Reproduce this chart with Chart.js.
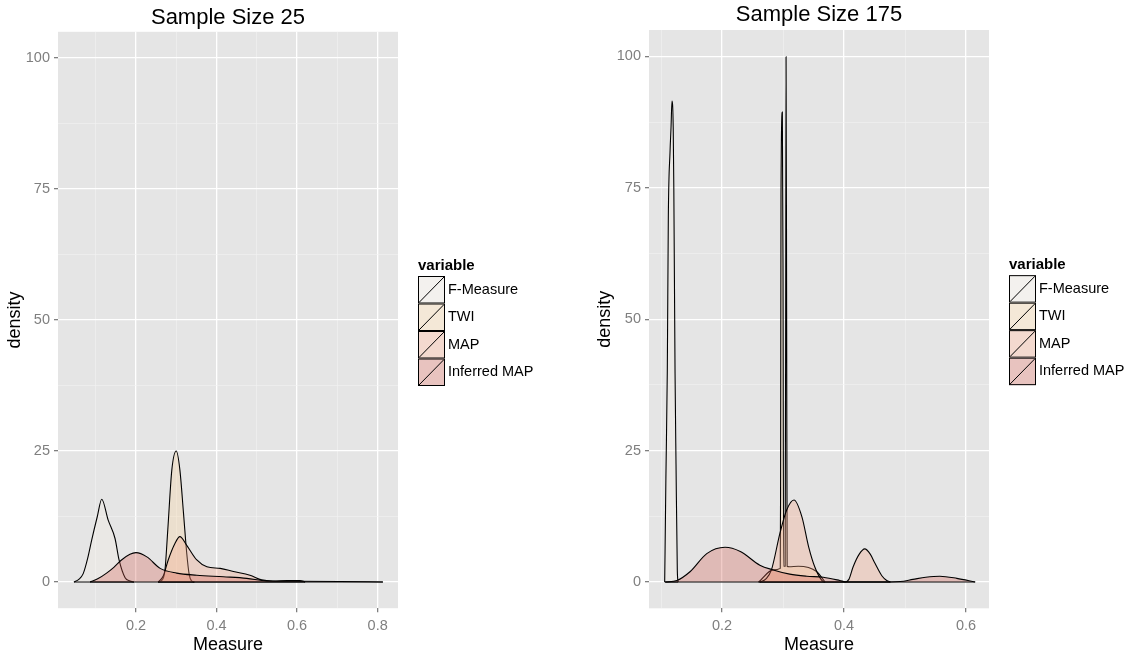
<!DOCTYPE html>
<html>
<head>
<meta charset="utf-8">
<script src="https://cdn.jsdelivr.net/npm/chart.js@4"></script>
<style>
    body { margin: 0; background: #fff; width: 1129px; height: 654px; overflow: hidden; }
    .panel { position: absolute; top: 0; height: 654px; }
    #left { left: 0; width: 560px; }
    #right { left: 590px; width: 539px; }
</style>
</head>
<body>
<div class="panel" id="left"><canvas id="chart25"></canvas></div>
<div class="panel" id="right"><canvas id="chart175"></canvas></div>
<script>
const seriesNames = ['F-Measure', 'TWI', 'MAP', 'Inferred MAP'];
const seriesFills = ['rgba(246,241,230,0.32)', 'rgba(248,210,160,0.32)', 'rgba(245,165,135,0.32)', 'rgba(210,95,85,0.32)'];

// y ticks (major every 25, minor lines in between)
const yTicks = [0, 12.5, 25, 37.5, 50, 62.5, 75, 87.5, 100];

// Sample Size 25
const xTicks25 = [0.1, 0.2, 0.3, 0.4, 0.5, 0.6, 0.7, 0.8];
const fm25X = [0.046, 0.058, 0.069, 0.080, 0.090, 0.104, 0.115, 0.131, 0.148, 0.158, 0.173, 0.185, 0.195];
const fm25Y = [0, 0.5, 1.6, 4.5, 8, 12.5, 15.8, 11.8, 8.3, 4.2, 0.8, 0.2, 0];
const twi25X = [0.255, 0.264, 0.272, 0.279, 0.289, 0.300, 0.309, 0.318, 0.326, 0.332, 0.338, 0.345];
const twi25Y = [0, 0.3, 2.3, 10, 21.4, 25, 21.4, 13.1, 5.5, 1.5, 0.2, 0];
const map25X = [0.255, 0.268, 0.280, 0.297, 0.309, 0.326, 0.351, 0.376, 0.409, 0.442, 0.483, 0.512, 0.540, 0.575, 0.607, 0.620];
const map25Y = [0, 1.2, 4.2, 7.4, 8.65, 7, 4.2, 2.9, 2.6, 2.0, 1.3, 0.4, 0.2, 0.3, 0.3, 0];
const inf25X = [0.086, 0.105, 0.127, 0.145, 0.164, 0.185, 0.200, 0.227, 0.260, 0.301, 0.351, 0.417, 0.475, 0.525, 0.600, 0.707, 0.813];
const inf25Y = [0, 0.6, 1.7, 2.8, 4.2, 5.3, 5.6, 4.8, 2.6, 1.7, 1.3, 1.0, 0.7, 0.2, 0.15, 0.1, 0];

// Sample Size 175
const xTicks175 = [0.1, 0.2, 0.3, 0.4, 0.5, 0.6];
const fm175X = [0.1060, 0.1066, 0.1080, 0.1103, 0.1120, 0.1148, 0.1164, 0.1180, 0.1200, 0.1210, 0.1230, 0.1246, 0.1267, 0.1280];
const fm175Y = [0, 5.5, 19.8, 40, 69.6, 81.9, 86.4, 91.5, 86.4, 74.7, 39.8, 22.4, 2.3, 0];
const twi175X = [0.260, 0.284, 0.2955, 0.2960, 0.2967, 0.2989, 0.3000, 0.3010, 0.3035, 0.3045, 0.3050, 0.3060, 0.3068, 0.310, 0.325, 0.355, 0.369];
const twi175Y = [0, 2.3, 2.6, 17, 73.6, 89.4, 60, 3, 3, 60, 99.9, 47.9, 3, 2.9, 3.0, 2.0, 0];
const map175X = [0.262, 0.272, 0.281, 0.295, 0.306, 0.318, 0.331, 0.342, 0.352, 0.363, 0.368, 0.402, 0.408, 0.415, 0.425, 0.434, 0.443, 0.451, 0.462, 0.470, 0.476];
const map175Y = [0, 0.6, 2.3, 9.3, 13.7, 15.6, 12.4, 6.7, 2.9, 0.4, 0, 0, 0.5, 2.9, 5.3, 6.3, 5.3, 3.5, 1.2, 0.3, 0];
const inf175X = [0.107, 0.126, 0.148, 0.175, 0.205, 0.230, 0.262, 0.284, 0.311, 0.339, 0.366, 0.393, 0.404, 0.450, 0.492, 0.513, 0.534, 0.557, 0.585, 0.615];
const inf175Y = [0, 0.3, 2.0, 5.4, 6.6, 5.8, 3.2, 2.3, 1.5, 1.1, 0.9, 0.3, 0, 0, 0.1, 0.5, 0.9, 1.1, 0.7, 0];

const FONT = '"Liberation Sans", Arial, sans-serif';
const isMajorX = (v) => Math.round(v * 10) % 2 === 0;
const isMajorY = (v) => v % 25 === 0;

const panelBg = {
    id: 'panelBg',
    beforeDraw(chart) {
        const { ctx, chartArea: a } = chart;
        ctx.save();
        ctx.fillStyle = '#e5e5e5';
        ctx.fillRect(a.left, a.top, a.right - a.left, a.bottom - a.top);
        ctx.restore();
    }
};

// ggplot closes each density polygon along y = 0
const baseLine = {
    id: 'baseLine',
    afterDatasetDraw(chart, args) {
        const pts = chart.data.datasets[args.index].data;
        const { ctx, scales } = chart;
        const y0 = scales.y.getPixelForValue(0);
        ctx.save();
        ctx.strokeStyle = '#000';
        ctx.lineWidth = 1;
        ctx.beginPath();
        ctx.moveTo(scales.x.getPixelForValue(pts[0].x), y0);
        ctx.lineTo(scales.x.getPixelForValue(pts[pts.length - 1].x), y0);
        ctx.stroke();
        ctx.restore();
    }
};

const ggLegend = {
    id: 'ggLegend',
    afterDraw(chart) {
        const { ctx, chartArea: a } = chart;
        const x0 = a.right + 20;
        const mid = (a.top + a.bottom) / 2;
        const w = 27, h = 27.5;
        let y = mid - 44;
        ctx.save();
        ctx.textBaseline = 'middle';
        ctx.fillStyle = '#000';
        ctx.font = 'bold 15px ' + FONT;
        ctx.fillText('variable', x0, mid - 54);
        ctx.font = '14.5px ' + FONT;
        chart.data.datasets.forEach((ds) => {
            ctx.fillStyle = '#f2f2f2';
            ctx.fillRect(x0, y, w, h);
            ctx.fillStyle = ds.backgroundColor;
            ctx.fillRect(x0, y, w, h);
            ctx.strokeStyle = '#000';
            ctx.lineWidth = 1;
            ctx.strokeRect(x0 + 0.5, y + 0.5, w - 1, h - 1);
            ctx.beginPath();
            ctx.moveTo(x0 + 1, y + h - 1);
            ctx.lineTo(x0 + w - 1, y + 1);
            ctx.stroke();
            ctx.fillStyle = '#000';
            ctx.fillText(ds.label, x0 + w + 3, y + h / 2);
            y += h;
        });
        ctx.restore();
    }
};

function buildDatasets(xs, ys) {
    return xs.map((xArr, i) => ({
        label: seriesNames[i],
        data: xArr.map((x, j) => ({ x: x, y: ys[i][j] })),
        backgroundColor: seriesFills[i],
        borderColor: '#000',
        borderWidth: 1.1,
        fill: 'origin',
        pointRadius: 0,
        cubicInterpolationMode: 'monotone',
        order: 4 - i
    }));
}

function makeChart(id, title, xs, ys, xMin, xMax, xTicks, axisWidth, padRight, titlePad, xAxisHeight) {
    const ctx = document.getElementById(id).getContext('2d');
    return new Chart(ctx, {
        type: 'line',
        data: { datasets: buildDatasets(xs, ys) },
        plugins: [panelBg, baseLine, ggLegend],
        options: {
            responsive: true,
            maintainAspectRatio: false,
            animation: false,
            layout: { padding: { left: 0, right: padRight, top: 0, bottom: 0 } },
            plugins: {
                legend: { display: false },
                tooltip: { enabled: false },
                title: {
                    display: true,
                    text: title,
                    color: '#000',
                    fullSize: false,
                    font: { family: FONT, size: 22, weight: 'normal' },
                    padding: titlePad
                }
            },
            scales: {
                x: {
                    type: 'linear',
                    min: xMin,
                    max: xMax,
                    afterBuildTicks: (axis) => { axis.ticks = xTicks.map((v) => ({ value: v })); },
                    afterFit: (axis) => { axis.height = xAxisHeight; },
                    border: { display: false },
                    grid: {
                        color: (c) => isMajorX(c.tick.value) ? '#ffffff' : '#f2f2f2',
                        lineWidth: (c) => isMajorX(c.tick.value) ? 1.3 : 0.6,
                        tickColor: (c) => isMajorX(c.tick.value) ? '#7f7f7f' : 'rgba(0,0,0,0)',
                        tickLength: 4
                    },
                    ticks: {
                        autoSkip: false,
                        maxRotation: 0,
                        padding: 5,
                        color: '#7f7f7f',
                        font: { family: FONT, size: 14.5 },
                        callback: (v) => isMajorX(v) ? v.toFixed(1) : ''
                    },
                    title: {
                        display: true,
                        text: 'Measure',
                        color: '#000',
                        font: { family: FONT, size: 18, lineHeight: 1 },
                        padding: 0
                    }
                },
                y: {
                    min: -5,
                    max: 105,
                    afterBuildTicks: (axis) => { axis.ticks = yTicks.map((v) => ({ value: v })); },
                    afterFit: (axis) => { axis.width = axisWidth; },
                    border: { display: false },
                    grid: {
                        color: (c) => isMajorY(c.tick.value) ? '#ffffff' : '#f2f2f2',
                        lineWidth: (c) => isMajorY(c.tick.value) ? 1.3 : 0.6,
                        tickColor: (c) => isMajorY(c.tick.value) ? '#7f7f7f' : 'rgba(0,0,0,0)',
                        tickLength: 4
                    },
                    ticks: {
                        padding: 4,
                        color: '#7f7f7f',
                        font: { family: FONT, size: 14.5 },
                        callback: (v) => isMajorY(v) ? String(v) : ''
                    },
                    title: {
                        display: true,
                        text: 'density',
                        color: '#000',
                        font: { family: FONT, size: 18, lineHeight: 1 },
                        padding: { top: 6, bottom: 0 }
                    }
                }
            }
        }
    });
}

makeChart('chart25', 'Sample Size 25',
    [fm25X, twi25X, map25X, inf25X], [fm25Y, twi25Y, map25Y, inf25Y],
    0.0064, 0.8505, xTicks25, 58, 162, { top: 4.6, bottom: 0.8 }, 45.8);

makeChart('chart175', 'Sample Size 175',
    [fm175X, twi175X, map175X, inf175X], [fm175Y, twi175Y, map175Y, inf175Y],
    0.0803, 0.6377, xTicks175, 59, 140, { top: 2.2, bottom: 1.4 }, 45.7);
</script>
</body>
</html>
